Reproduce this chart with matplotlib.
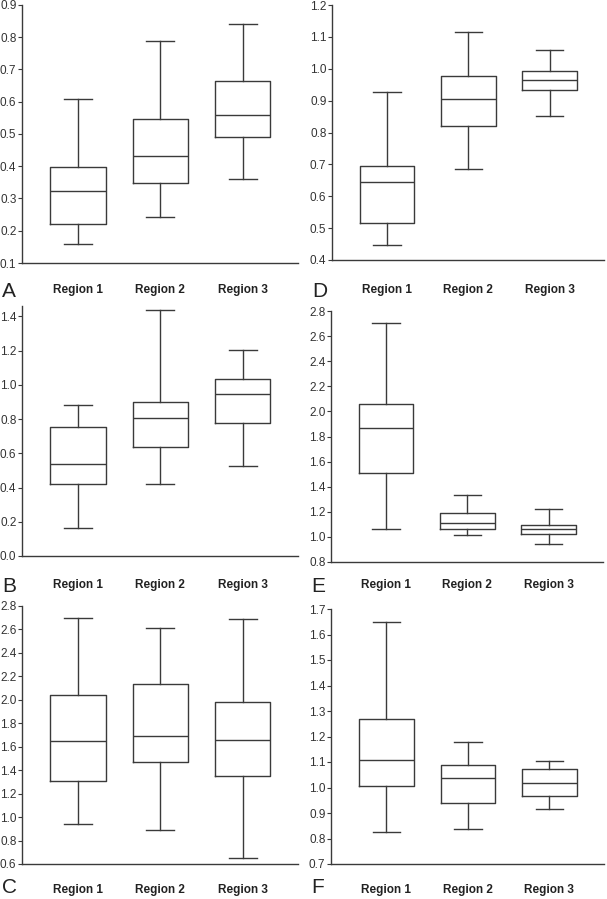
import matplotlib
matplotlib.use("Agg")
import matplotlib.pyplot as plt

plt.rcParams["font.family"] = ["Liberation Sans", "DejaVu Sans"]

regions = ["Region 1", "Region 2", "Region 3"]

# box statistics per panel: whisker low, Q1, median, Q3, whisker high
a_low = [0.159, 0.244, 0.362]
a_q1 = [0.221, 0.348, 0.492]
a_med = [0.324, 0.433, 0.558]
a_q3 = [0.397, 0.547, 0.664]
a_high = [0.609, 0.788, 0.841]

b_low = [0.164, 0.423, 0.523]
b_q1 = [0.423, 0.638, 0.779]
b_med = [0.537, 0.804, 0.945]
b_q3 = [0.752, 0.902, 1.033]
b_high = [0.879, 1.437, 1.203]

c_low = [0.938, 0.890, 0.652]
c_q1 = [1.311, 1.467, 1.348]
c_med = [1.649, 1.691, 1.655]
c_q3 = [2.044, 2.138, 1.981]
c_high = [2.698, 2.610, 2.692]

d_low = [0.447, 0.685, 0.851]
d_q1 = [0.515, 0.821, 0.932]
d_med = [0.644, 0.904, 0.965]
d_q3 = [0.696, 0.978, 0.993]
d_high = [0.928, 1.116, 1.058]

e_low = [1.066, 1.012, 0.946]
e_q1 = [1.509, 1.066, 1.026]
e_med = [1.870, 1.111, 1.060]
e_q3 = [2.062, 1.188, 1.095]
e_high = [2.704, 1.331, 1.220]

f_low = [0.827, 0.836, 0.916]
f_q1 = [1.006, 0.938, 0.966]
f_med = [1.107, 1.038, 1.019]
f_q3 = [1.269, 1.089, 1.074]
f_high = [1.648, 1.179, 1.102]

a_ticks = [0.1, 0.2, 0.3, 0.4, 0.5, 0.6, 0.7, 0.8, 0.9]
b_ticks = [0.0, 0.2, 0.4, 0.6, 0.8, 1.0, 1.2, 1.4]
c_ticks = [0.6, 0.8, 1.0, 1.2, 1.4, 1.6, 1.8, 2.0, 2.2, 2.4, 2.6, 2.8]
d_ticks = [0.4, 0.5, 0.6, 0.7, 0.8, 0.9, 1.0, 1.1, 1.2]
e_ticks = [0.8, 1.0, 1.2, 1.4, 1.6, 1.8, 2.0, 2.2, 2.4, 2.6, 2.8]
f_ticks = [0.7, 0.8, 0.9, 1.0, 1.1, 1.2, 1.3, 1.4, 1.5, 1.6, 1.7]

W, H = 607, 899
LINE = "#3a3a3a"


def px_axes(fig, left, right, top, bottom):
    return fig.add_axes([left / W, (H - bottom) / H, (right - left) / W, (bottom - top) / H])


def draw_panel(fig, box, letter, low, q1, med, q3, high, ticks, ymax, label_y, letter_y):
    left, right, top, bottom = box
    ax = px_axes(fig, left, right, top, bottom)
    stats = []
    for i in range(3):
        stats.append({"whislo": low[i], "q1": q1[i], "med": med[i],
                      "q3": q3[i], "whishi": high[i], "fliers": []})
    lp = dict(color=LINE, linewidth=1.0)
    ax.bxp(stats, positions=[1, 2, 3], widths=0.67, showfliers=False,
           boxprops=lp, medianprops=lp, whiskerprops=lp, capprops=lp,
           capwidths=0.34)
    ax.set_xlim(0.32, 3.67)
    ax.set_ylim(ticks[0], ymax)
    ax.set_yticks(ticks)
    ax.set_yticklabels([f"{t:.1f}" for t in ticks])
    ax.tick_params(axis="y", length=3, width=0.8, color=LINE, labelsize=8.5,
                   labelcolor="#333333", pad=1)
    ax.tick_params(axis="x", bottom=False, labelbottom=False)
    for s in ["top", "right"]:
        ax.spines[s].set_visible(False)
    for s in ["left", "bottom"]:
        ax.spines[s].set_color(LINE)
        ax.spines[s].set_linewidth(1.0)
    # region labels and panel letter below the axis
    for i, name in enumerate(regions):
        fig.text((left + (right - left) * (i + 1 - 0.32) / 3.35) / W, (H - label_y) / H,
                 name, ha="center", va="center", fontsize=8.5, fontweight="bold",
                 color="#222222")
    fig.text((left - 20) / W, (H - letter_y) / H, letter, ha="left", va="bottom",
             fontsize=15, color="#222222")
    return ax


fig = plt.figure(figsize=(W / 100, H / 100), dpi=100)

draw_panel(fig, (22, 298, 5, 263), "A", a_low, a_q1, a_med, a_q3, a_high, a_ticks, 0.9, 290, 301)
draw_panel(fig, (22, 298, 306, 556), "B", b_low, b_q1, b_med, b_q3, b_high, b_ticks, 1.46, 585, 596)
draw_panel(fig, (22, 298, 606, 864), "C", c_low, c_q1, c_med, c_q3, c_high, c_ticks, 2.8, 890, 897)
draw_panel(fig, (332, 604, 5, 260), "D", d_low, d_q1, d_med, d_q3, d_high, d_ticks, 1.2, 290, 301)
draw_panel(fig, (331, 603, 311, 562), "E", e_low, e_q1, e_med, e_q3, e_high, e_ticks, 2.8, 585, 596)
draw_panel(fig, (331, 604, 609, 864), "F", f_low, f_q1, f_med, f_q3, f_high, f_ticks, 1.7, 890, 897)

fig.savefig("out.png", dpi=100, facecolor="white")
